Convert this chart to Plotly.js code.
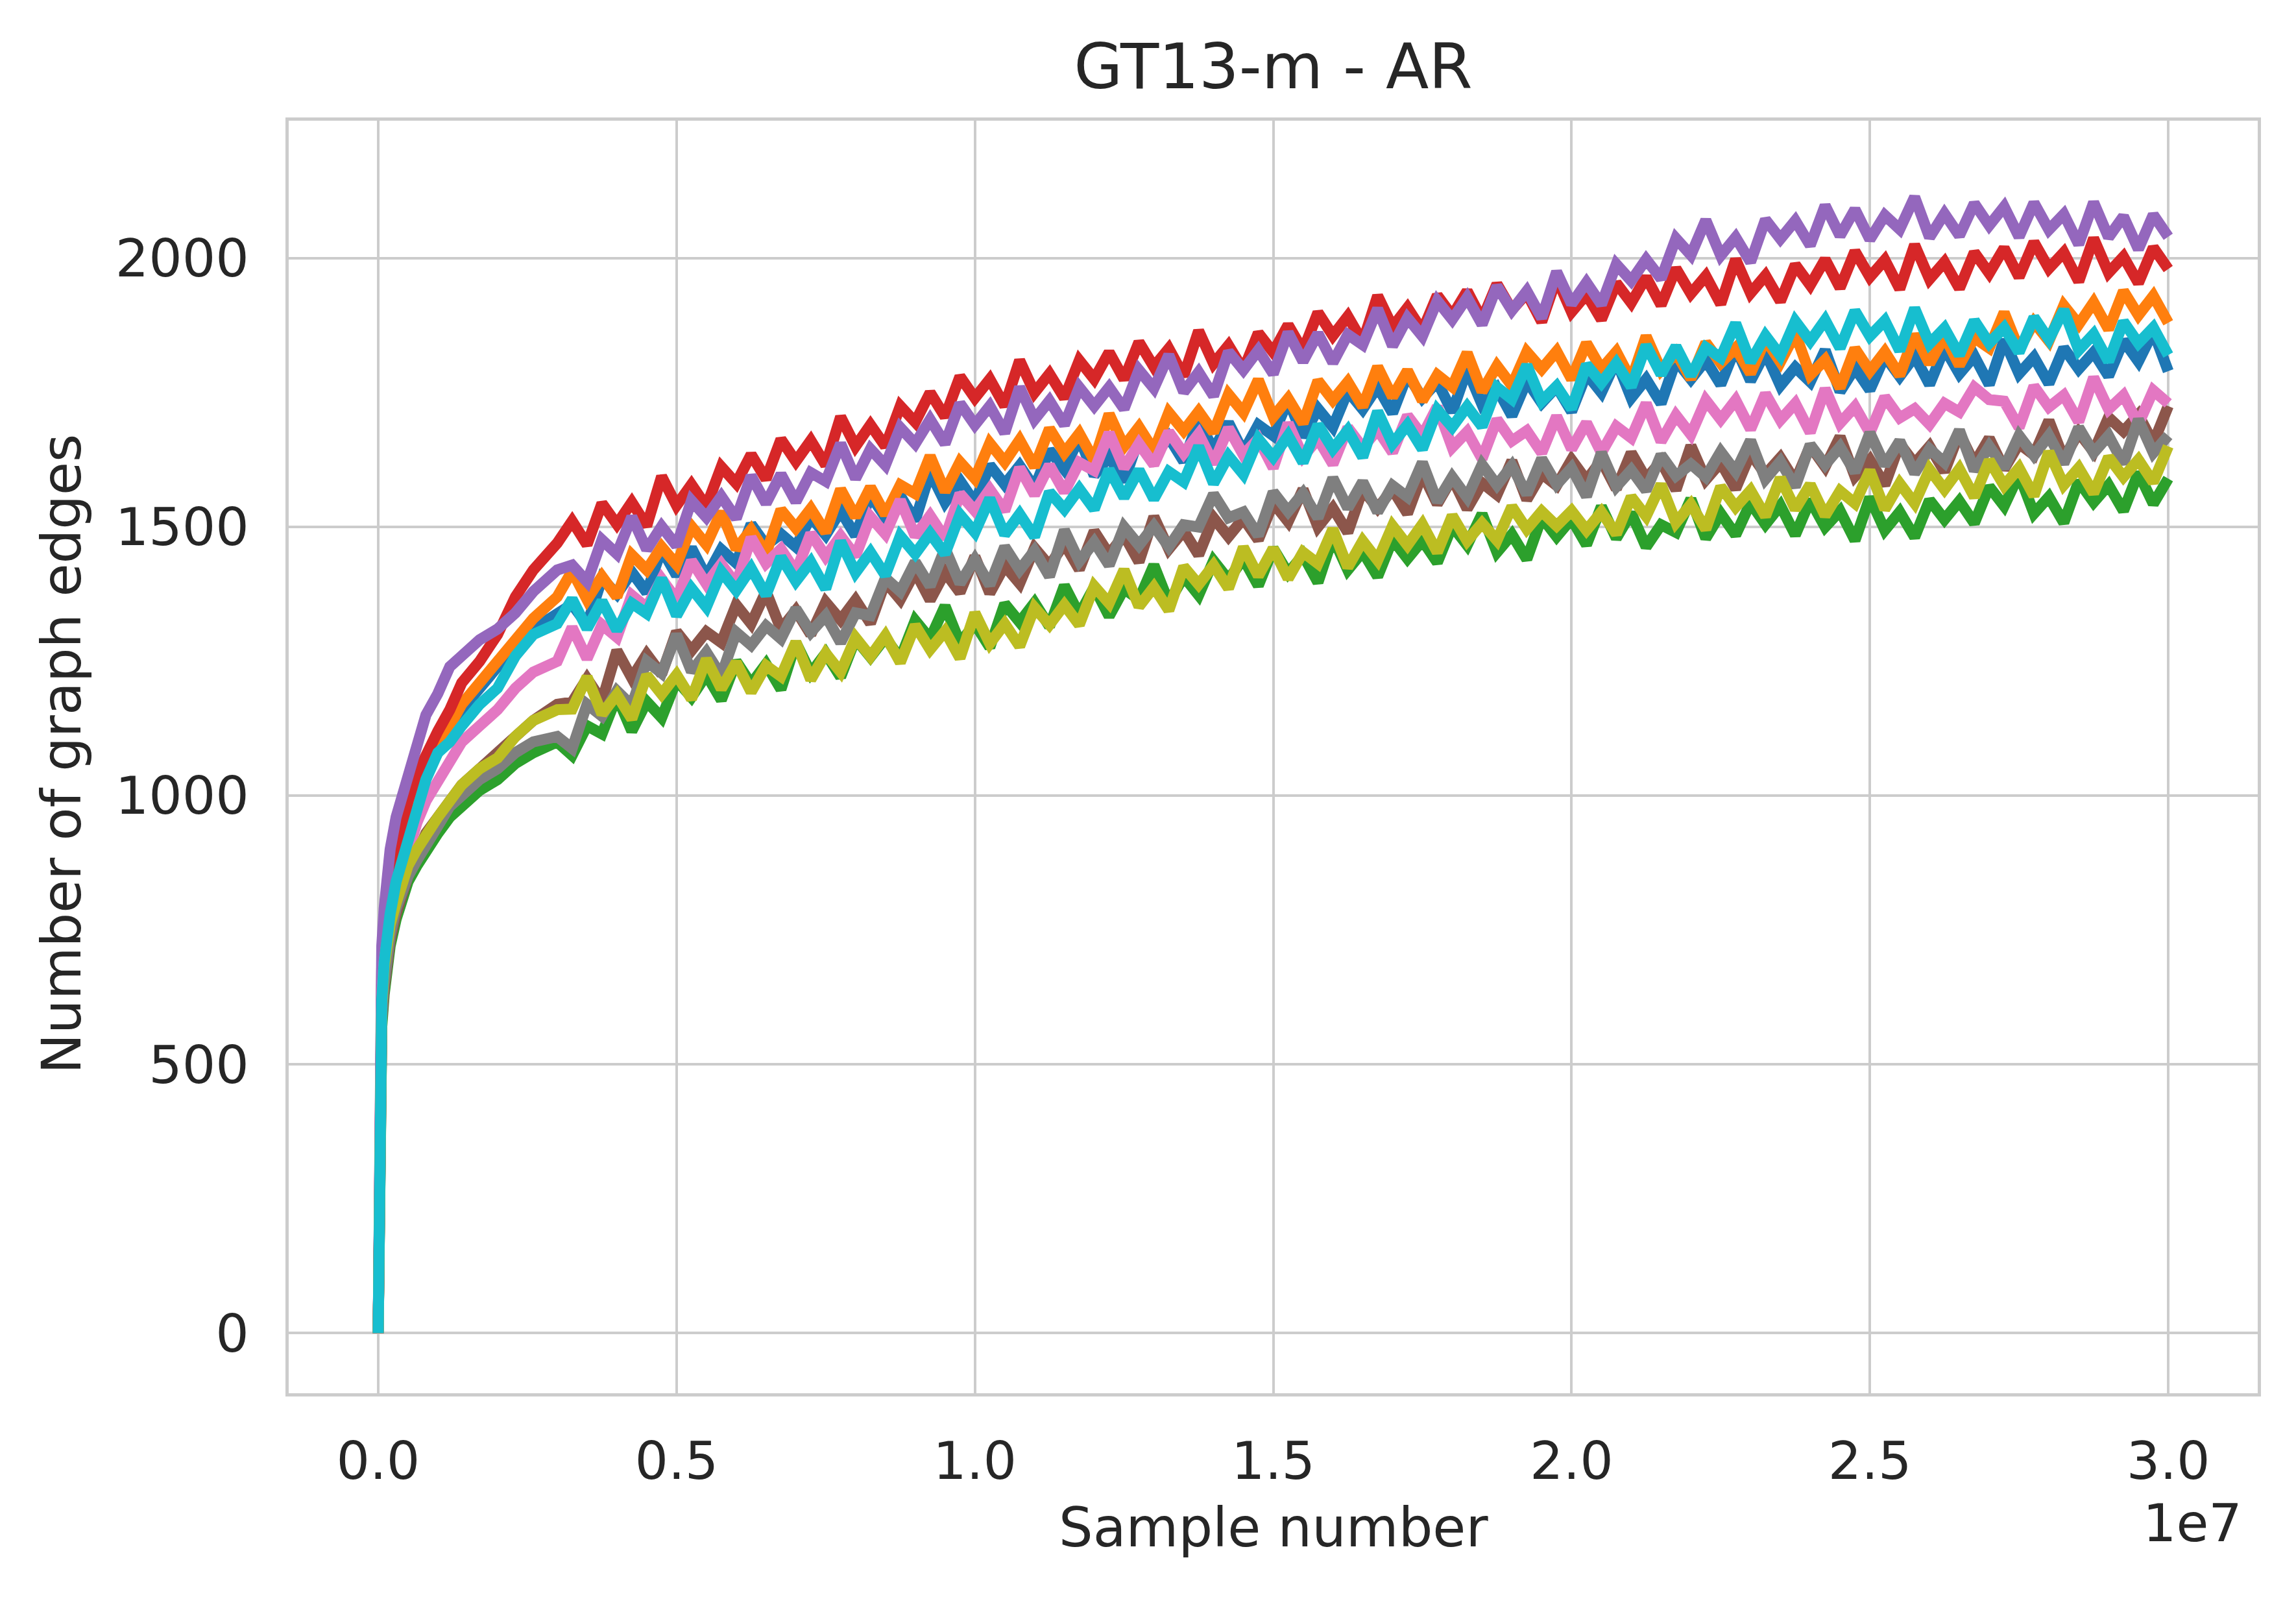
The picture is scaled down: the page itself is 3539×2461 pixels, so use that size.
<!DOCTYPE html>
<html>
<head>
<meta charset="utf-8">
<script src="https://cdn.plot.ly/plotly-3.0.1.min.js"></script>
<style>
  html, body { margin: 0; padding: 0; background: #ffffff; }
  #chart { width: 3539px; height: 2461px; }
</style>
</head>
<body>
<div id="chart"></div>
<script>
// sample positions, in units of 1e7
var sampleX = [0, 0.001, 0.003, 0.006, 0.01, 0.015, 0.02, 0.03, 0.04, 0.05,
    0.065, 0.08, 0.1, 0.12, 0.14, 0.17, 0.2, 0.23, 0.26, 0.3,
    0.325, 0.35, 0.375, 0.4, 0.425, 0.45, 0.475, 0.5,
    0.525, 0.55, 0.575, 0.6, 0.625, 0.65, 0.675, 0.7, 0.725, 0.75,
    0.775, 0.8, 0.825, 0.85, 0.875, 0.9, 0.925, 0.95, 0.975, 1.0,
    1.025, 1.05, 1.075, 1.1, 1.125, 1.15, 1.175, 1.2, 1.225, 1.25,
    1.275, 1.3, 1.325, 1.35, 1.375, 1.4, 1.425, 1.45, 1.475, 1.5,
    1.525, 1.55, 1.575, 1.6, 1.625, 1.65, 1.675, 1.7, 1.725, 1.75,
    1.775, 1.8, 1.825, 1.85, 1.875, 1.9, 1.925, 1.95, 1.975, 2.0,
    2.025, 2.05, 2.075, 2.1, 2.125, 2.15, 2.175, 2.2, 2.225, 2.25,
    2.275, 2.3, 2.325, 2.35, 2.375, 2.4, 2.425, 2.45, 2.475, 2.5,
    2.525, 2.55, 2.575, 2.6, 2.625, 2.65, 2.675, 2.7, 2.725, 2.75,
    2.775, 2.8, 2.825, 2.85, 2.875, 2.9, 2.925, 2.95, 2.975, 3.0];

// number of graph edges, one array per run (drawing order = matplotlib colour cycle)
var edgesBlue = [0, 450, 560, 640, 700, 750, 790, 850, 900, 940,
    990, 1040, 1080, 1120, 1160, 1200, 1240, 1280, 1310, 1340,
    1356, 1318, 1404, 1375, 1416, 1378, 1459, 1410,
    1461, 1407, 1458, 1433, 1505, 1466, 1487, 1463, 1519, 1485,
    1530, 1484, 1559, 1518, 1558, 1512, 1602, 1546, 1586, 1545,
    1615, 1579, 1614, 1573, 1643, 1607, 1667, 1596, 1631, 1585,
    1666, 1631, 1667, 1622, 1698, 1643, 1694, 1639, 1690, 1670,
    1737, 1668, 1720, 1686, 1753, 1719, 1761, 1712, 1784, 1740,
    1770, 1714, 1794, 1728, 1758, 1707, 1772, 1731, 1761, 1715,
    1785, 1750, 1810, 1740, 1775, 1730, 1810, 1775, 1810, 1765,
    1834, 1772, 1825, 1763, 1797, 1770, 1829, 1752, 1796, 1755,
    1818, 1780, 1818, 1765, 1833, 1785, 1818, 1765, 1848, 1785,
    1816, 1767, 1833, 1794, 1825, 1781, 1847, 1808, 1864, 1790];
var edgesOrange = [0, 460, 570, 650, 710, 760, 800, 860, 910, 950,
    1000, 1050, 1090, 1130, 1170, 1210, 1250, 1290, 1330, 1370,
    1418, 1365, 1408, 1370, 1448, 1420, 1463, 1430,
    1501, 1467, 1528, 1459, 1495, 1451, 1532, 1498, 1534, 1490,
    1570, 1519, 1574, 1523, 1578, 1562, 1632, 1566, 1621, 1590,
    1656, 1621, 1662, 1612, 1683, 1638, 1674, 1624, 1710, 1650,
    1686, 1642, 1713, 1679, 1715, 1676, 1747, 1713, 1774, 1705,
    1739, 1693, 1772, 1736, 1770, 1724, 1798, 1742, 1791, 1735,
    1783, 1761, 1824, 1752, 1800, 1763, 1826, 1794, 1827, 1775,
    1842, 1794, 1826, 1773, 1855, 1792, 1824, 1776, 1843, 1805,
    1833, 1786, 1849, 1807, 1860, 1783, 1811, 1759, 1832, 1790,
    1826, 1782, 1858, 1804, 1855, 1801, 1852, 1833, 1899, 1830,
    1881, 1846, 1912, 1877, 1918, 1868, 1939, 1894, 1930, 1880];
var edgesGreen = [0, 390, 490, 570, 630, 680, 720, 770, 810, 840,
    870, 900, 930, 960, 980, 1010, 1030, 1060, 1080, 1100,
    1075, 1130, 1115, 1185, 1120, 1175, 1145, 1215,
    1183, 1225, 1178, 1250, 1208, 1245, 1198, 1285, 1228, 1265,
    1221, 1292, 1258, 1294, 1255, 1326, 1292, 1353, 1284, 1320,
    1276, 1357, 1323, 1359, 1315, 1391, 1337, 1388, 1334, 1385,
    1365, 1429, 1359, 1408, 1373, 1437, 1402, 1441, 1391, 1460,
    1414, 1448, 1397, 1481, 1420, 1454, 1408, 1477, 1441, 1475,
    1434, 1502, 1466, 1524, 1453, 1486, 1440, 1518, 1482, 1515,
    1467, 1538, 1479, 1526, 1463, 1504, 1490, 1552, 1479, 1525,
    1485, 1545, 1505, 1540, 1485, 1550, 1500, 1530, 1475, 1555,
    1494, 1528, 1481, 1550, 1514, 1548, 1507, 1575, 1539, 1598,
    1525, 1556, 1508, 1585, 1546, 1578, 1530, 1601, 1543, 1590];
var edgesRed = [0, 480, 590, 680, 740, 790, 830, 890, 940, 990,
    1040, 1080, 1120, 1160, 1210, 1250, 1300, 1370, 1420, 1470,
    1511, 1467, 1544, 1505, 1546, 1502, 1594, 1540,
    1579, 1538, 1612, 1581, 1635, 1589, 1663, 1622, 1661, 1615,
    1705, 1650, 1690, 1650, 1725, 1695, 1750, 1705, 1780, 1740,
    1775, 1725, 1810, 1750, 1785, 1740, 1810, 1775, 1825, 1775,
    1844, 1798, 1832, 1781, 1865, 1804, 1838, 1792, 1861, 1825,
    1876, 1828, 1899, 1856, 1892, 1844, 1930, 1872, 1908, 1865,
    1931, 1893, 1939, 1886, 1952, 1904, 1935, 1882, 1963, 1900,
    1933, 1886, 1954, 1917, 1965, 1913, 1981, 1934, 1967, 1915,
    1998, 1935, 1968, 1920, 1988, 1950, 1998, 1945, 2013, 1965,
    1997, 1943, 2025, 1961, 1993, 1944, 2011, 1972, 2019, 1965,
    2030, 1981, 2011, 1957, 2037, 1973, 2003, 1954, 2020, 1980];
var edgesPurple = [0, 520, 630, 720, 790, 850, 900, 960, 1000, 1040,
    1100, 1150, 1190, 1240, 1260, 1290, 1310, 1340, 1380, 1420,
    1429, 1398, 1476, 1450, 1519, 1458, 1501, 1465,
    1549, 1518, 1557, 1516, 1595, 1544, 1598, 1547, 1601, 1585,
    1655, 1590, 1645, 1615, 1685, 1655, 1700, 1655, 1730, 1690,
    1725, 1675, 1760, 1700, 1735, 1690, 1760, 1725, 1760, 1720,
    1792, 1758, 1820, 1751, 1788, 1744, 1826, 1792, 1829, 1785,
    1862, 1808, 1860, 1806, 1858, 1839, 1906, 1837, 1889, 1855,
    1921, 1886, 1927, 1877, 1948, 1903, 1939, 1889, 1975, 1915,
    1955, 1914, 1989, 1958, 1998, 1962, 2037, 2006, 2071, 2005,
    2039, 1993, 2072, 2036, 2070, 2024, 2098, 2042, 2091, 2035,
    2080, 2054, 2114, 2039, 2083, 2042, 2102, 2061, 2096, 2040,
    2103, 2053, 2082, 2026, 2104, 2039, 2078, 2017, 2081, 2040];
var edgesBrown = [0, 400, 500, 580, 640, 690, 730, 780, 820, 850,
    890, 930, 960, 990, 1020, 1050, 1080, 1110, 1140, 1170,
    1174, 1218, 1176, 1270, 1219, 1263, 1226, 1305,
    1270, 1305, 1285, 1355, 1320, 1380, 1310, 1345, 1300, 1360,
    1327, 1364, 1321, 1398, 1365, 1417, 1364, 1416, 1378, 1445,
    1377, 1428, 1395, 1461, 1428, 1469, 1421, 1492, 1449, 1485,
    1435, 1519, 1459, 1493, 1448, 1517, 1482, 1516, 1476, 1545,
    1510, 1570, 1500, 1535, 1490, 1570, 1535, 1570, 1525, 1600,
    1543, 1591, 1534, 1582, 1560, 1623, 1551, 1599, 1577, 1625,
    1587, 1624, 1571, 1638, 1590, 1622, 1569, 1651, 1588, 1620,
    1571, 1637, 1598, 1629, 1585, 1651, 1612, 1668, 1594, 1625,
    1578, 1655, 1618, 1650, 1603, 1675, 1618, 1665, 1608, 1655,
    1634, 1698, 1627, 1676, 1640, 1704, 1678, 1709, 1656, 1725];
var edgesPink = [0, 440, 550, 630, 690, 740, 770, 820, 860, 900,
    950, 990, 1030, 1070, 1100, 1130, 1160, 1200, 1230, 1250,
    1313, 1255, 1318, 1295, 1373, 1350, 1403, 1365,
    1437, 1394, 1431, 1393, 1480, 1432, 1459, 1416, 1488, 1445,
    1483, 1446, 1519, 1487, 1550, 1483, 1521, 1479, 1562, 1530,
    1570, 1530, 1610, 1560, 1615, 1565, 1620, 1605, 1675, 1610,
    1655, 1616, 1677, 1637, 1673, 1618, 1684, 1634, 1664, 1610,
    1693, 1631, 1664, 1617, 1685, 1648, 1681, 1639, 1707, 1670,
    1724, 1648, 1677, 1627, 1700, 1660, 1679, 1638, 1706, 1645,
    1694, 1638, 1687, 1666, 1730, 1659, 1708, 1672, 1736, 1700,
    1736, 1682, 1748, 1699, 1730, 1676, 1757, 1693, 1724, 1675,
    1742, 1703, 1720, 1691, 1730, 1714, 1760, 1737, 1734, 1685,
    1762, 1723, 1745, 1696, 1778, 1719, 1745, 1691, 1754, 1730];
var edgesGray = [0, 410, 510, 590, 650, 700, 740, 790, 820, 850,
    880, 910, 940, 980, 1000, 1030, 1050, 1080, 1100, 1110,
    1088, 1170, 1148, 1195, 1168, 1250, 1228, 1300,
    1231, 1267, 1223, 1304, 1280, 1316, 1292, 1348, 1304, 1335,
    1285, 1340, 1335, 1405, 1380, 1435, 1390, 1460, 1395, 1440,
    1392, 1463, 1420, 1456, 1408, 1494, 1436, 1472, 1429, 1500,
    1466, 1502, 1463, 1504, 1500, 1561, 1517, 1528, 1484, 1565,
    1529, 1563, 1517, 1591, 1535, 1584, 1528, 1577, 1556, 1620,
    1547, 1593, 1555, 1616, 1578, 1614, 1561, 1627, 1579, 1610,
    1557, 1638, 1575, 1606, 1568, 1634, 1595, 1617, 1593, 1640,
    1603, 1661, 1589, 1622, 1575, 1653, 1616, 1649, 1602, 1675,
    1615, 1660, 1600, 1645, 1620, 1680, 1605, 1650, 1610, 1670,
    1633, 1670, 1618, 1685, 1638, 1670, 1618, 1700, 1638, 1670];
var edgesOlive = [0, 420, 530, 610, 680, 730, 760, 800, 840, 870,
    900, 930, 960, 990, 1020, 1050, 1070, 1110, 1140, 1160,
    1161, 1221, 1152, 1188, 1143, 1224, 1189, 1225,
    1180, 1254, 1199, 1248, 1193, 1242, 1222, 1286, 1216, 1265,
    1230, 1294, 1259, 1298, 1248, 1317, 1272, 1306, 1256, 1340,
    1283, 1320, 1278, 1350, 1318, 1355, 1318, 1390, 1358, 1420,
    1352, 1388, 1345, 1426, 1393, 1429, 1386, 1462, 1409, 1460,
    1404, 1453, 1432, 1496, 1425, 1474, 1438, 1502, 1466, 1505,
    1453, 1521, 1474, 1507, 1475, 1538, 1496, 1529, 1502, 1530,
    1494, 1528, 1487, 1556, 1520, 1579, 1508, 1542, 1496, 1575,
    1537, 1568, 1520, 1591, 1533, 1579, 1521, 1567, 1544, 1605,
    1533, 1581, 1544, 1607, 1570, 1608, 1556, 1624, 1577, 1610,
    1558, 1640, 1578, 1610, 1563, 1630, 1593, 1625, 1583, 1650];
var edgesCyan = [0, 430, 540, 620, 690, 740, 780, 840, 880, 920,
    980, 1030, 1080, 1100, 1130, 1170, 1200, 1260, 1300, 1320,
    1366, 1311, 1362, 1308, 1358, 1339, 1404, 1335,
    1386, 1351, 1417, 1382, 1423, 1373, 1444, 1399, 1435, 1385,
    1473, 1415, 1453, 1410, 1483, 1450, 1488, 1450, 1523, 1490,
    1553, 1486, 1524, 1482, 1565, 1533, 1571, 1533, 1607, 1555,
    1606, 1552, 1603, 1584, 1650, 1581, 1632, 1598, 1664, 1630,
    1670, 1620, 1690, 1645, 1680, 1630, 1715, 1655, 1690, 1645,
    1718, 1686, 1724, 1687, 1760, 1738, 1801, 1734, 1762, 1720,
    1802, 1768, 1805, 1761, 1838, 1784, 1836, 1782, 1834, 1815,
    1879, 1807, 1856, 1819, 1883, 1846, 1885, 1833, 1902, 1855,
    1884, 1828, 1907, 1841, 1870, 1820, 1884, 1842, 1871, 1825,
    1890, 1849, 1904, 1829, 1859, 1808, 1882, 1842, 1871, 1820];

var runs = [edgesBlue, edgesOrange, edgesGreen, edgesRed, edgesPurple,
            edgesBrown, edgesPink, edgesGray, edgesOlive, edgesCyan];
var colors = ['#1f77b4', '#ff7f0e', '#2ca02c', '#d62728', '#9467bd',
              '#8c564b', '#e377c2', '#7f7f7f', '#bcbd22', '#17becf'];

var W = 3539, H = 2461;
var plotL = 445, plotR = 3480, plotT = 186, plotB = 2147;
var textColor = '#262626';
var font = 'DejaVu Sans';

var data = [];
for (var i = 0; i < runs.length; i++) {
    if (runs[i].length != sampleX.length) {
        throw new Error('run ' + i + ' has ' + runs[i].length + ' values, x has ' + sampleX.length);
    }
    data.push({
        x: sampleX,
        y: runs[i],
        type: 'scatter',
        mode: 'lines',
        line: {color: colors[i], width: 17},
        showlegend: false,
        hoverinfo: 'skip'
    });
}

function pY(px) { return (plotB - px) / (plotB - plotT); }
function pX(px) { return (px - plotL) / (plotR - plotL); }

var layout = {
    width: W,
    height: H,
    paper_bgcolor: '#ffffff',
    plot_bgcolor: '#ffffff',
    margin: {l: plotL, r: W - plotR, t: plotT, b: H - plotB, pad: 0},
    font: {family: font, color: textColor, size: 81},
    title: {
        text: 'GT13-m - AR',
        font: {family: font, size: 97, color: textColor},
        x: 0.5, xref: 'paper', xanchor: 'center',
        y: 1 - 102 / H, yref: 'container', yanchor: 'middle'
    },
    xaxis: {
        range: [-0.15, 3.15],
        tickvals: [0, 0.5, 1.0, 1.5, 2.0, 2.5, 3.0],
        ticktext: ['0.0', '0.5', '1.0', '1.5', '2.0', '2.5', '3.0'],
        showgrid: true, gridcolor: '#cccccc', gridwidth: 4,
        zeroline: false,
        showline: true, linecolor: '#cccccc', linewidth: 5, mirror: true,
        ticks: 'outside', ticklen: 30, tickcolor: 'rgba(0,0,0,0)',
        tickfont: {family: font, size: 81, color: textColor}
    },
    yaxis: {
        range: [-112, 2256],
        tickvals: [0, 500, 1000, 1500, 2000],
        ticktext: ['0', '500', '1000', '1500', '2000'],
        showgrid: true, gridcolor: '#cccccc', gridwidth: 4,
        zeroline: false,
        showline: true, linecolor: '#cccccc', linewidth: 5, mirror: true,
        ticks: 'outside', ticklen: 40, tickcolor: 'rgba(0,0,0,0)',
        tickfont: {family: font, size: 81, color: textColor}
    },
    annotations: [
        {
            text: 'Sample number', showarrow: false,
            xref: 'paper', yref: 'paper',
            x: 0.5, y: pY(2354), xanchor: 'center', yanchor: 'middle',
            font: {family: font, size: 83, color: textColor}
        },
        {
            text: 'Number of graph edges', showarrow: false, textangle: -90,
            xref: 'paper', yref: 'paper',
            x: pX(95), y: pY(1162), xanchor: 'center', yanchor: 'middle',
            font: {family: font, size: 83, color: textColor}
        },
        {
            text: '1e7', showarrow: false,
            xref: 'paper', yref: 'paper',
            x: pX(3379), y: pY(2347), xanchor: 'center', yanchor: 'middle',
            font: {family: font, size: 81, color: textColor}
        }
    ]
};

Plotly.newPlot('chart', data, layout, {staticPlot: true, displayModeBar: false});
</script>
</body>
</html>
